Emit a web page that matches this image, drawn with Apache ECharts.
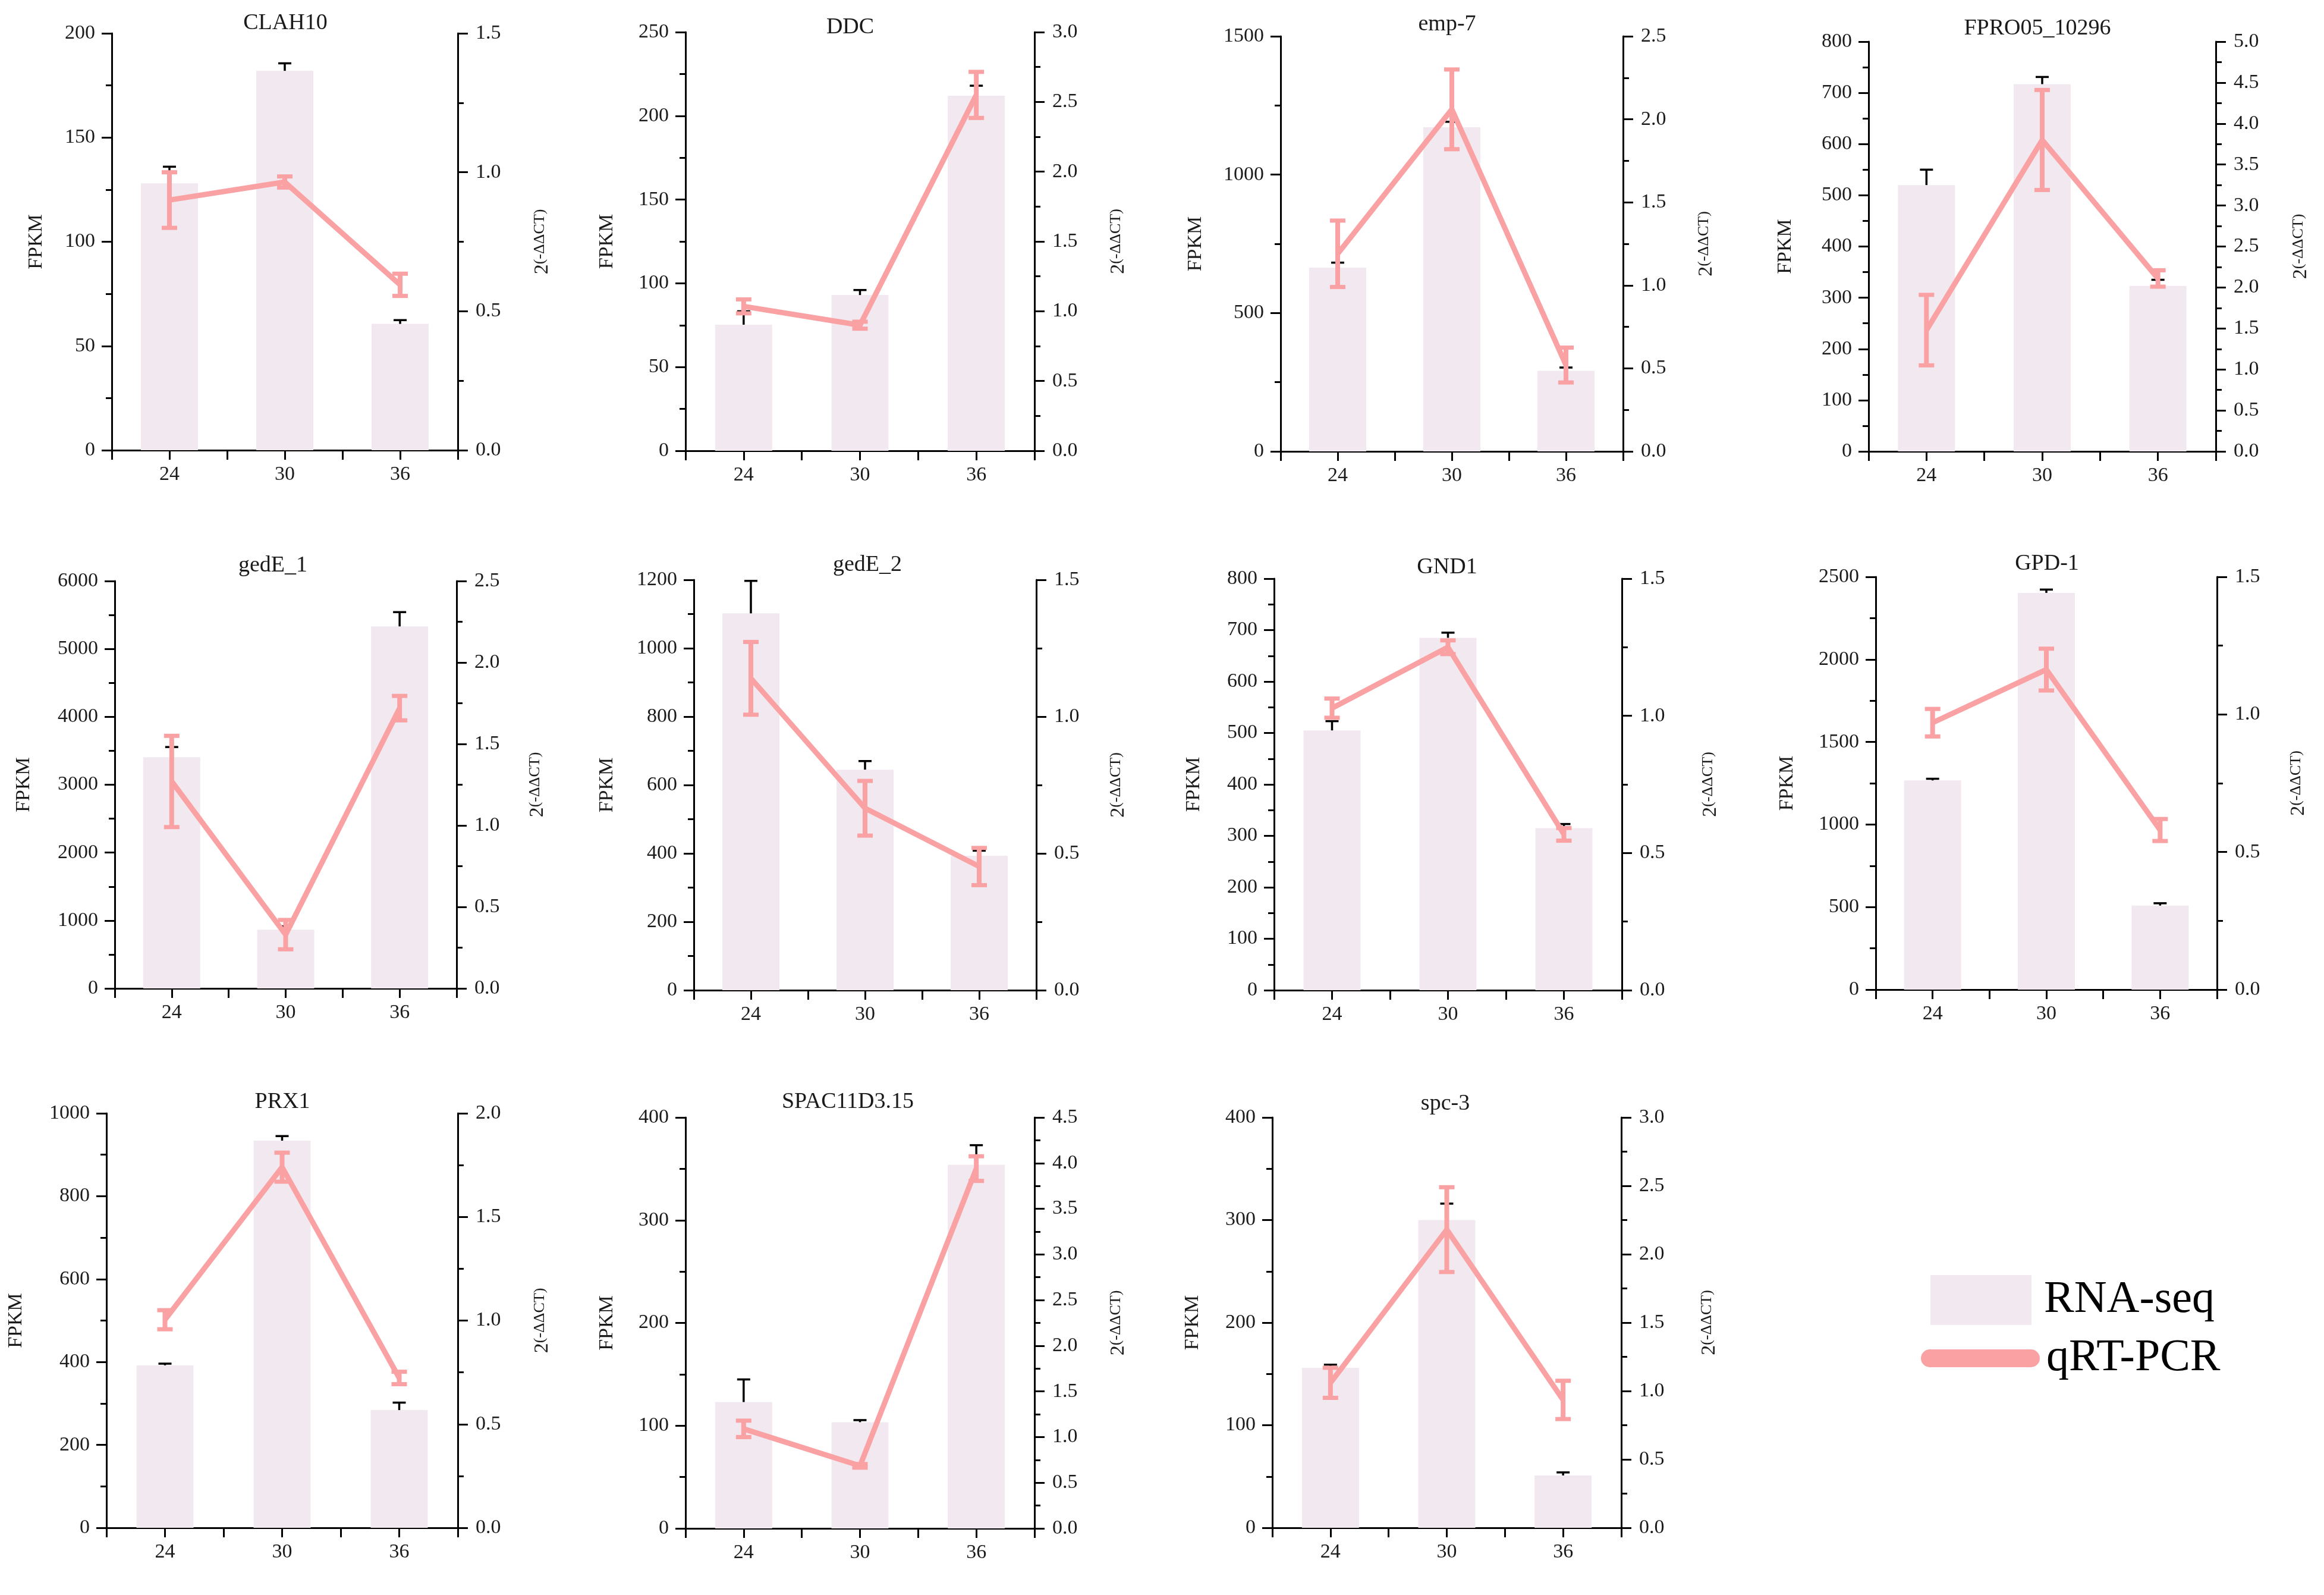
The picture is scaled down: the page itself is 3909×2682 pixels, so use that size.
<!DOCTYPE html>
<html><head><meta charset="utf-8">
<script src="https://cdn.jsdelivr.net/npm/echarts@6/dist/echarts.min.js"></script>
<style>html,body{margin:0;padding:0;background:#fff}#c{width:3909px;height:2682px}</style>
</head><body><div id="c"></div>
<script>
// ---------- data ----------
const categories = [24, 30, 36];
const genes = ['CLAH10','DDC','emp-7','FPRO05_10296','gedE_1','gedE_2','GND1','GPD-1','PRX1','SPAC11D3.15','spc-3'];
const fpkmMean = [
  [128, 182, 60.6],
  [75.3, 93, 212],
  [664, 1171, 291],
  [520, 717, 323],
  [3405, 865, 5332],
  [1102, 645, 393],
  [505, 685, 315],
  [1267, 2403, 509],
  [392, 934, 284],
  [123, 103.4, 354],
  [156, 300, 51]
];
const fpkmSD = [
  [8, 3.6, 1.8],
  [8, 3, 6],
  [18, 20, 12],
  [30, 14, 12],
  [150, 50, 210],
  [95, 25, 15],
  [18, 10, 8],
  [10, 20, 14],
  [4, 11, 18],
  [22, 2, 19],
  [3, 16, 3]
];
const qpcrMean = [
  [0.90, 0.965, 0.595],
  [1.035, 0.90, 2.55],
  [1.19, 2.06, 0.52],
  [1.48, 3.80, 2.11],
  [1.27, 0.33, 1.72],
  [1.14, 0.665, 0.452],
  [1.028, 1.25, 0.568],
  [0.97, 1.163, 0.58],
  [1.004, 1.74, 0.723],
  [1.09, 0.685, 3.94],
  [1.06, 2.18, 0.935]
];
const qpcrSD = [
  [0.10, 0.02, 0.04],
  [0.05, 0.025, 0.165],
  [0.20, 0.24, 0.105],
  [0.43, 0.61, 0.10],
  [0.28, 0.09, 0.075],
  [0.133, 0.10, 0.068],
  [0.035, 0.025, 0.023],
  [0.05, 0.076, 0.04],
  [0.046, 0.07, 0.03],
  [0.09, 0.02, 0.135],
  [0.11, 0.31, 0.14]
];
const fpkmAxisMax = [200, 250, 1500, 800, 6000, 1200, 800, 2500, 1000, 400, 400];
const fpkmAxisStep = [50, 50, 500, 100, 1000, 200, 100, 500, 200, 100, 100];
const qpcrAxisMax = [1.5, 3.0, 2.5, 5.0, 2.5, 1.5, 1.5, 1.5, 2.0, 4.5, 3.0];
const qpcrAxisStep = 0.5;
const seriesNames = ['RNA-seq', 'qRT-PCR'];

// ---------- layout (pixels) ----------
// [gridLeft, gridTop, gridWidth, gridHeight, titleX, titleY, leftNameDist, rightNameDist]
const panelLayout = [
  [188, 56, 582, 701, 480, 41, 127, 142],
  [1153, 54, 587, 704, 1430, 48, 132, 141],
  [2154, 61, 576, 698, 2434, 43, 143, 140],
  [3143, 70, 584, 689, 3427, 50, 140, 143],
  [193, 977, 575, 685, 459, 953, 153, 136],
  [1167, 975, 576, 690, 1459, 952, 146, 138],
  [2143, 973, 585, 692, 2434, 956, 135, 149],
  [3155, 970, 574, 694, 3443, 950, 149, 137],
  [179, 1872, 591, 697, 475, 1855, 152, 142],
  [1153, 1879, 587, 691, 1426, 1855, 132, 141],
  [2140, 1879, 587, 690, 2431, 1858, 134, 148]
];

const FONT = 'Liberation Serif';
const BAR_COLOR = '#F2E9F0';
const LINE_COLOR = '#F9A1A3';
const TXT = '#1a1a1a';
const tickRich = { t: { fontFamily: FONT, fontSize: 34, color: TXT } };

const grid = [], xAxis = [], yAxis = [], series = [], title = [];

genes.forEach((g, i) => {
  const [gl, gt, gw, gh, tx, ty, lnd, rnd] = panelLayout[i];
  grid.push({ left: gl, top: gt, width: gw, height: gh });
  title.push({
    text: g, left: tx, top: ty - 21, textAlign: 'center', padding: 0,
    textStyle: { fontFamily: FONT, fontSize: 38, fontWeight: 'normal', color: TXT }
  });
  xAxis.push({
    gridIndex: i, type: 'value', min: 21, max: 39, interval: 3,
    axisLine: { show: true, onZero: false, lineStyle: { color: '#000', width: 3 } },
    axisTick: { show: true, length: 16, lineStyle: { color: '#000', width: 3 } },
    splitLine: { show: false },
    axisLabel: {
      formatter: v => (categories.indexOf(v) >= 0 ? '{t|' + v + '}' : ''),
      fontFamily: FONT, fontSize: 34, color: TXT, margin: 24, rich: tickRich
    }
  });
  yAxis.push({
    gridIndex: i, type: 'value', position: 'left', min: 0,
    max: fpkmAxisMax[i], interval: fpkmAxisStep[i],
    name: '{n|FPKM}', nameLocation: 'middle', nameGap: lnd - 17,
    nameTextStyle: { fontFamily: FONT, fontSize: 34, color: TXT,
      rich: { n: { fontFamily: FONT, fontSize: 34, color: TXT } } },
    axisLine: { show: true, lineStyle: { color: '#000', width: 3 } },
    axisTick: { show: true, length: 17, lineStyle: { color: '#000', width: 3 } },
    minorTick: { show: true, splitNumber: 2, length: 10, lineStyle: { color: '#000', width: 3 } },
    splitLine: { show: false }, minorSplitLine: { show: false },
    axisLabel: { fontFamily: FONT, fontSize: 34, color: TXT, margin: 28,
      formatter: v => '{t|' + v + '}', rich: tickRich }
  });
  yAxis.push({
    gridIndex: i, type: 'value', position: 'right', min: 0,
    max: qpcrAxisMax[i], interval: qpcrAxisStep,
    name: '{a|2}{b|(-ΔΔCT)}', nameLocation: 'middle', nameGap: rnd - 17,
    nameTextStyle: {
      fontFamily: FONT, color: TXT,
      rich: {
        a: { fontFamily: FONT, fontSize: 34, color: TXT, verticalAlign: 'bottom' },
        b: { fontFamily: FONT, fontSize: 26, color: TXT, verticalAlign: 'top' }
      }
    },
    axisLine: { show: true, lineStyle: { color: '#000', width: 3 } },
    axisTick: { show: true, length: 17, lineStyle: { color: '#000', width: 3 } },
    minorTick: { show: true, splitNumber: 2, length: 10, lineStyle: { color: '#000', width: 3 } },
    splitLine: { show: false }, minorSplitLine: { show: false },
    axisLabel: { fontFamily: FONT, fontSize: 34, color: TXT, margin: 30,
      formatter: v => '{t|' + v.toFixed(1) + '}', rich: tickRich }
  });

  // RNA-seq bars
  series.push({
    type: 'bar', name: seriesNames[0], xAxisIndex: i, yAxisIndex: 2 * i,
    data: categories.map((c, k) => [c, fpkmMean[i][k]]),
    barWidth: 96, itemStyle: { color: BAR_COLOR }, z: 1, silent: true
  });
  // RNA-seq error bars (upper only)
  series.push({
    type: 'custom', name: 'fpkmErr', xAxisIndex: i, yAxisIndex: 2 * i, z: 2, silent: true,
    encode: { x: 0, y: [1, 2] },
    data: categories.map((c, k) => [c, fpkmMean[i][k], fpkmMean[i][k] + fpkmSD[i][k]]),
    renderItem: (params, api) => {
      const p0 = api.coord([api.value(0), api.value(1)]);
      const p1 = api.coord([api.value(0), api.value(2)]);
      const st = { stroke: '#000', lineWidth: 3.5, fill: null };
      return { type: 'group', children: [
        { type: 'line', shape: { x1: p0[0], y1: p0[1], x2: p1[0], y2: p1[1] }, style: st },
        { type: 'line', shape: { x1: p1[0] - 11, y1: p1[1], x2: p1[0] + 11, y2: p1[1] }, style: st }
      ] };
    }
  });
  // qRT-PCR line
  series.push({
    type: 'line', name: seriesNames[1], xAxisIndex: i, yAxisIndex: 2 * i + 1,
    data: categories.map((c, k) => [c, qpcrMean[i][k]]),
    symbol: 'none', lineStyle: { color: LINE_COLOR, width: 9 }, itemStyle: { color: LINE_COLOR },
    z: 3, silent: true
  });
  // qRT-PCR error bars
  series.push({
    type: 'custom', name: 'qpcrErr', xAxisIndex: i, yAxisIndex: 2 * i + 1, z: 4, silent: true,
    encode: { x: 0, y: [1, 2] },
    data: categories.map((c, k) => [c, qpcrMean[i][k] - qpcrSD[i][k], qpcrMean[i][k] + qpcrSD[i][k]]),
    renderItem: (params, api) => {
      const lo = api.coord([api.value(0), api.value(1)]);
      const hi = api.coord([api.value(0), api.value(2)]);
      const st = { stroke: LINE_COLOR, lineWidth: 8, fill: null };
      return { type: 'group', children: [
        { type: 'line', shape: { x1: lo[0], y1: lo[1], x2: hi[0], y2: hi[1] }, style: st },
        { type: 'line', shape: { x1: hi[0] - 13, y1: hi[1], x2: hi[0] + 13, y2: hi[1] }, style: { stroke: LINE_COLOR, lineWidth: 7 } },
        { type: 'line', shape: { x1: lo[0] - 13, y1: lo[1], x2: lo[0] + 13, y2: lo[1] }, style: { stroke: LINE_COLOR, lineWidth: 7 } }
      ] };
    }
  });
});

const option = {
  backgroundColor: '#ffffff',
  animation: false,
  textStyle: { fontFamily: FONT },
  title: title,
  grid: grid,
  xAxis: xAxis,
  yAxis: yAxis,
  series: series,
  legend: [
    {
      data: [{ name: seriesNames[0], icon: 'rect' }],
      left: 3247, top: 2144, padding: 0, itemWidth: 170, itemHeight: 84, selectedMode: false,
      textStyle: { fontFamily: FONT, fontSize: 76, color: '#000', padding: [0, 0, 0, 16] }
    },
    {
      data: [{ name: seriesNames[1], icon: 'path://M15,0H185A15,15,0,0,1,185,30H15A15,15,0,0,1,15,0Z' }],
      left: 3231, top: 2246, padding: 0, itemWidth: 200, itemHeight: 30, selectedMode: false,
      textStyle: { fontFamily: FONT, fontSize: 76, color: '#000', padding: [0, 0, 0, 6] }
    }
  ]
};

const chart = echarts.init(document.getElementById('c'), null, { renderer: 'canvas' });
chart.setOption(option);
</script>
</body></html>
